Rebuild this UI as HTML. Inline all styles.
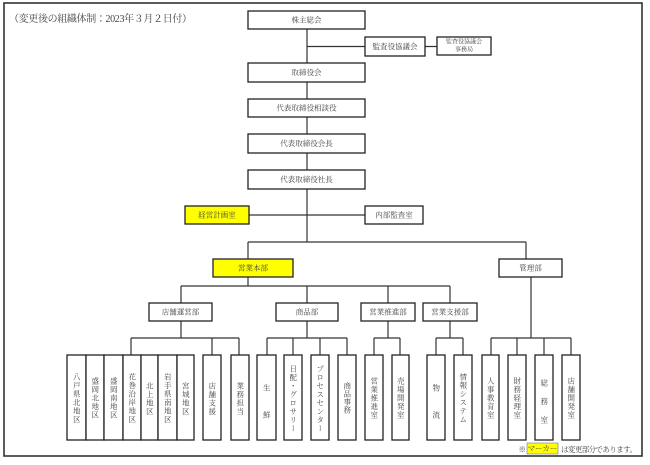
<!DOCTYPE html>
<html lang="ja">
<head>
<meta charset="utf-8">
<style>
  html,body{margin:0;padding:0;background:#fff;}
  body{width:650px;height:465px;position:relative;overflow:hidden;
       font-family:"Liberation Serif","Noto Serif CJK SC","Noto Serif CJK JP",serif;}
  svg{position:absolute;left:0;top:0;}
  svg text{font-family:"Liberation Serif","Noto Serif CJK SC",serif;fill:#444;}
  .v{position:absolute;top:356px;height:84px;display:flex;align-items:center;justify-content:center;
     font-size:7.5px;color:#444;line-height:1;}
  .v span{writing-mode:vertical-rl;display:inline-block;line-height:1;letter-spacing:1px;padding-top:1px;}
</style>
</head>
<body>
<svg width="650" height="465" viewBox="0 0 650 465">
  <!-- outer border -->
  <rect x="4" y="3" width="638" height="453" fill="none" stroke="#333" stroke-width="1.6"/>

  <!-- connectors -->
  <g fill="none" stroke="#333" stroke-width="1.2">
    <path d="M307 29 V242"/>
    <path d="M307 46.5 H437"/>
    <path d="M249 215 H365"/>
    <path d="M248 242 H526 M248 242 V259 M526 242 V259"/>
    <path d="M248 277 V286 M181 286 H450"/>
    <path d="M181 286 V303 M307 286 V303 M388 286 V303 M450 286 V303"/>
    <path d="M181 321 V338 M307 321 V338 M388 321 V338 M450 321 V338 M531 277 V338"/>
    <path d="M131 338 H239 M267 338 H347 M374 338 H400 M436 338 H463 M491 338 H571"/>
    <path d="M131 338 V355 M212 338 V355 M239 338 V355
             M267 338 V355 M293 338 V355 M320 338 V355 M347 338 V355
             M374 338 V355 M400 338 V355
             M436 338 V355 M463 338 V355
             M491 338 V355 M517 338 V355 M544 338 V355 M571 338 V355"/>
  </g>

  <!-- boxes -->
  <g stroke="#222" stroke-width="1.3" fill="#fff">
    <rect x="248" y="11" width="117" height="18"/>
    <rect x="365" y="37" width="60" height="19"/>
    <rect x="437" y="37" width="54" height="18"/>
    <rect x="248" y="63" width="117" height="19"/>
    <rect x="248" y="99" width="117" height="18"/>
    <rect x="248" y="134" width="117" height="19"/>
    <rect x="248" y="170" width="117" height="19"/>
    <rect x="185" y="206" width="64" height="18" fill="#ffff00"/>
    <rect x="365" y="206" width="58" height="18"/>
    <rect x="213" y="259" width="80" height="18" fill="#ffff00"/>
    <rect x="499" y="259" width="63" height="18"/>
    <rect x="149" y="303" width="63" height="18"/>
    <rect x="276" y="303" width="62" height="18"/>
    <rect x="361" y="303" width="54" height="18"/>
    <rect x="423" y="303" width="54" height="18"/>

    <!-- bottom row -->
    <rect x="67" y="355" width="19" height="85"/>
    <rect x="86" y="355" width="18" height="85"/>
    <rect x="104" y="355" width="19" height="85"/>
    <rect x="123" y="355" width="18" height="85"/>
    <rect x="141" y="355" width="17" height="85"/>
    <rect x="158" y="355" width="19" height="85"/>
    <rect x="177" y="355" width="17" height="85"/>
    <rect x="203" y="355" width="18" height="85"/>
    <rect x="231" y="355" width="18" height="85"/>
    <rect x="257" y="355" width="19" height="85"/>
    <rect x="284" y="355" width="18" height="85"/>
    <rect x="311" y="355" width="18" height="85"/>
    <rect x="338" y="355" width="18" height="85"/>
    <rect x="365" y="355" width="18" height="85"/>
    <rect x="392" y="355" width="17" height="85"/>
    <rect x="427" y="355" width="18" height="85"/>
    <rect x="454" y="355" width="18" height="85"/>
    <rect x="482" y="355" width="17" height="85"/>
    <rect x="508" y="355" width="18" height="85"/>
    <rect x="535" y="355" width="18" height="85"/>
    <rect x="562" y="355" width="18" height="85"/>
  </g>

  <!-- title -->
  <text x="9" y="22" font-size="10" textLength="183" lengthAdjust="spacing">（変更後の組織体制：2023年３月２日付）</text>

  <!-- horizontal labels -->
  <g font-size="7.5" text-anchor="middle" dominant-baseline="central">
    <text x="306.5" y="20">株主総会</text>
    <text x="395" y="46.5">監査役協議会</text>
    <text x="464" y="42.5" font-size="6">監査役協議会</text>
    <text x="464" y="50.5" font-size="6">事務局</text>
    <text x="306.5" y="72.5">取締役会</text>
    <text x="306.5" y="108">代表取締役相談役</text>
    <text x="306.5" y="143.5">代表取締役会長</text>
    <text x="306.5" y="179.5">代表取締役社長</text>
    <text x="217" y="215">経営計画室</text>
    <text x="394" y="215">内部監査室</text>
    <text x="253" y="268">営業本部</text>
    <text x="530.5" y="268">管理部</text>
    <text x="180.5" y="312">店舗運営部</text>
    <text x="307" y="312">商品部</text>
    <text x="388" y="312">営業推進部</text>
    <text x="450" y="312">営業支援部</text>
  </g>

  <!-- legend -->
  <text x="518.5" y="452" font-size="7.5">※</text>
  <rect x="527" y="443" width="31" height="11" fill="#ffff00" stroke="#777" stroke-width="0.6"/>
  <text x="542.5" y="448.7" font-size="7.5" text-anchor="middle" dominant-baseline="central">マーカー</text>
  <text x="561" y="452" font-size="7.5" textLength="76" lengthAdjust="spacing">は変更部分であります。</text>
</svg>

<!-- vertical labels -->
<div class="v" style="left:67px;width:19px;"><span>八戸県北地区</span></div>
<div class="v" style="left:86px;width:18px;"><span>盛岡北地区</span></div>
<div class="v" style="left:104px;width:19px;"><span>盛岡南地区</span></div>
<div class="v" style="left:123px;width:18px;"><span>花巻沿岸地区</span></div>
<div class="v" style="left:141px;width:17px;"><span>北上地区</span></div>
<div class="v" style="left:158px;width:19px;"><span>岩手県南地区</span></div>
<div class="v" style="left:177px;width:17px;"><span>宮城地区</span></div>
<div class="v" style="left:203px;width:18px;"><span>店舗支援</span></div>
<div class="v" style="left:231px;width:18px;"><span>業務担当</span></div>

<div class="v" style="left:257px;width:19px;"><span style="letter-spacing:19.5px;padding-top:19.5px;margin-top:6px;">生鮮</span></div>
<div class="v" style="left:284px;width:18px;"><span>日配・グロサリー</span></div>
<div class="v" style="left:311px;width:18px;"><span>プロセスセンター</span></div>
<div class="v" style="left:338px;width:18px;"><span style="letter-spacing:0.5px;padding-top:0.5px;">商品事務</span></div>

<div class="v" style="left:365px;width:18px;"><span>営業推進室</span></div>
<div class="v" style="left:392px;width:17px;"><span>売場開発室</span></div>

<div class="v" style="left:427px;width:18px;"><span style="letter-spacing:19.5px;padding-top:19.5px;margin-top:6px;">物流</span></div>
<div class="v" style="left:454px;width:18px;"><span>情報システム</span></div>

<div class="v" style="left:482px;width:17px;"><span>人事教育室</span></div>
<div class="v" style="left:508px;width:18px;"><span>財務経理室</span></div>
<div class="v" style="left:535px;width:18px;"><span style="letter-spacing:11px;padding-top:11px;margin-top:6px;">総務室</span></div>
<div class="v" style="left:562px;width:18px;"><span>店舗開発室</span></div>
</body>
</html>
